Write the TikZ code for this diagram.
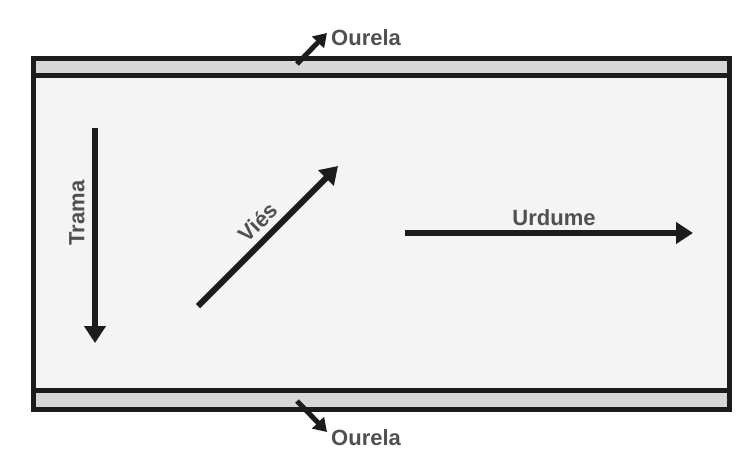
\documentclass[tikz,border=0pt]{standalone}
\usepackage{fontspec}
\setmainfont{Liberation Sans}
\usetikzlibrary{arrows.meta}
\definecolor{edgecol}{HTML}{1C1C1C}
\definecolor{bandcol}{HTML}{D7D7D9}
\definecolor{fieldcol}{HTML}{F4F4F4}
\definecolor{txtcol}{HTML}{505050}
\tikzset{
  frameline/.style={draw=edgecol, line width=5pt},
  bigarrow/.style={draw=edgecol, line width=6pt, -{Triangle[length=17pt,width=21pt]}},
  smallarrow/.style={draw=edgecol, line width=5pt, -{Triangle[length=13pt,width=16pt]}},
  lbl/.style={text=txtcol, font=\fontsize{22}{22}\selectfont\bfseries, inner sep=0pt}
}
\begin{document}
\begin{tikzpicture}[x=1pt, y=-1pt]
\useasboundingbox (0,0) rectangle (755,451);
\fill[white] (0,0) rectangle (755,451);
% fabric
\fill[bandcol] (33,58) rectangle (729,409);
\fill[fieldcol] (33,75.5) rectangle (729,390);
\draw[frameline] (33,58) rectangle (729,409);
\draw[frameline] (33,75.5) -- (729,75.5);
\draw[frameline] (33,390) -- (729,390);
% selvedge arrows
\coordinate (ot0) at (297,64);
\coordinate (ot1) at (327,33);
\coordinate (ob0) at (297,401);
\coordinate (ob1) at (327,432);
\draw[smallarrow] (ot0) -- (ot1);
\draw[smallarrow] (ob0) -- (ob1);
\node[lbl, anchor=base west] (ourelaT) at (331,45) {Ourela};
\node[lbl, anchor=base west] (ourelaB) at (331,445) {Ourela};
% trama
\coordinate (tr0) at (95,128);
\coordinate (tr1) at (95,343);
\draw[bigarrow] (tr0) -- (tr1);
\node[lbl, rotate=90] (trama) at (77,213) {Trama};
% vies
\coordinate (vi0) at (198,306);
\coordinate (vi1) at (338,166);
\draw[bigarrow] (vi0) -- (vi1);
\node[lbl, rotate=45] (vies) at (258,222) {Viés};
% urdume
\coordinate (ur0) at (405,233);
\coordinate (ur1) at (693,233);
\draw[bigarrow] (ur0) -- (ur1);
\node[lbl, anchor=base] (urdume) at (554,225) {Urdume};
\end{tikzpicture}
\end{document}
